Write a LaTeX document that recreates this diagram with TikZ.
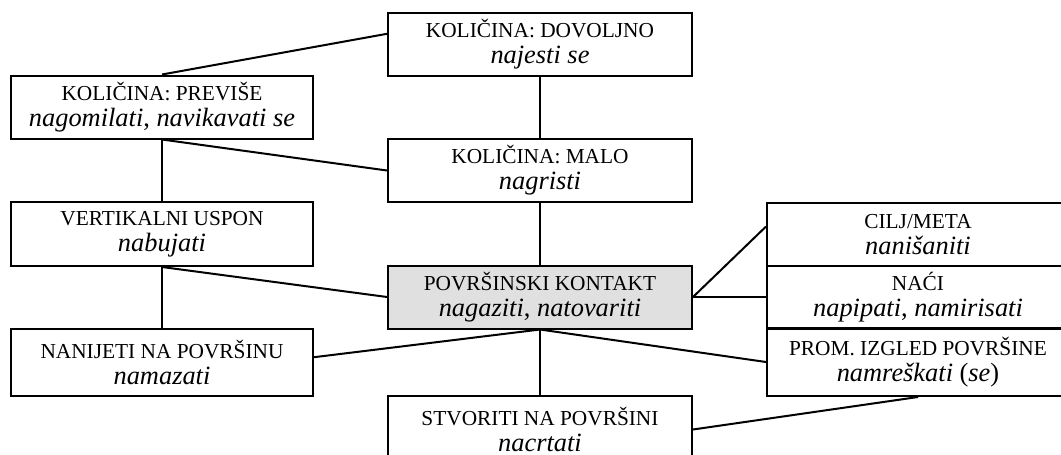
\documentclass[tikz,border=0pt]{standalone}
\usepackage{fontspec}
\setmainfont{Liberation Serif}
\definecolor{kontaktgray}{RGB}{224,224,224}
\newcommand{\glagsize}{\fontsize{19.8pt}{19.5pt}\selectfont}
\tikzset{
  box/.style={draw, line width=1.5pt, minimum width=228pt, minimum height=47.25pt,
    inner sep=0pt, align=center, font=\fontsize{16pt}{19.5pt}\selectfont},
  leftbox/.style={box, minimum width=226.5pt},
  rightbox/.style={box, minimum width=226.5pt},
  link/.style={line width=1.5pt}
}
\begin{document}
\begin{tikzpicture}[x=0.75pt,y=-0.75pt]
        \useasboundingbox (0,0) rectangle (1061,454);
        % Boxes
        \node[box] (dovoljno) at (540,44.5) {KOLIČINA: DOVOLJNO\\{\glagsize\textit{najesti se}}};
        \node[leftbox] (previse) at (162,107) {KOLIČINA: PREVIŠE\\{\glagsize\textit{nagomilati}, \textit{navikavati se}}};
        \node[box] (malo) at (540,170.5) {KOLIČINA: MALO\\{\glagsize\textit{nagristi}}};
        \node[leftbox, minimum height=48pt] (vertikalni) at (162,234) {VERTIKALNI USPON\\{\glagsize\textit{nabujati}}};
        \node[box, fill=kontaktgray] (kontakt) at (540,297) {POVRŠINSKI KONTAKT\\{\glagsize\textit{nagaziti}, \textit{natovariti}}};
        \node[rightbox] (cilj) at (918,234.5) {CILJ/META\\{\glagsize\textit{nanišaniti}}};
        \node[rightbox] (naci) at (918,297) {NAĆI\\{\glagsize\textit{napipati}, \textit{namirisati}}};
        \node[leftbox, minimum height=50.25pt] (nanijeti) at (162,362.5) {NANIJETI NA POVRŠINU\\{\glagsize\textit{namazati}}};
        \node[rightbox, minimum height=51pt] (prom) at (918,362) {PROM. IZGLED POVRŠINE\\{\glagsize\textit{namreškati} (\textit{se})}};
        \node[box, minimum height=50.25pt] (stvoriti) at (540,429.5) {STVORITI NA POVRŠINI\\{\glagsize\textit{nacrtati}}};
        % Connections
        \foreach \a/\b in {dovoljno.176/previse.north, dovoljno.south/malo.north,
            previse.south/malo.west, previse.south/vertikalni.north,
            malo.south/kontakt.north, vertikalni.south/kontakt.west,
            vertikalni.south/nanijeti.north, kontakt.east/cilj.177,
            kontakt.east/naci.west, kontakt.south/nanijeti.2,
            kontakt.south/stvoriti.north, kontakt.south/prom.west,
            stvoriti.east/prom.south}
        {
            \draw[link] (\a) -- (\b);
        }
    \end{tikzpicture}
\end{document}
